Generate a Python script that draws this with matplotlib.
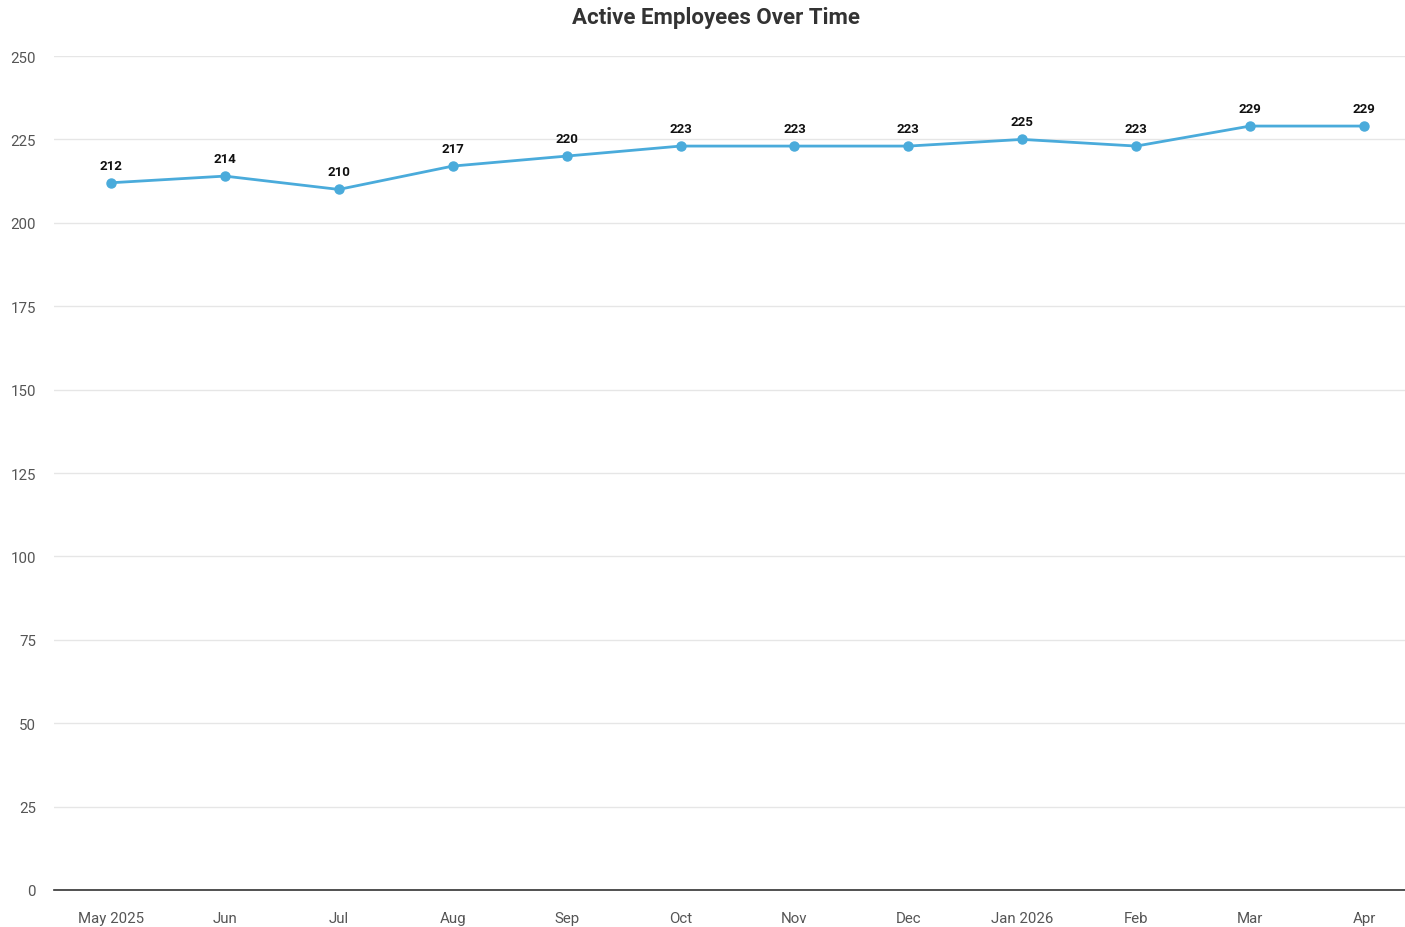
import numpy as np
import matplotlib
matplotlib.use("Agg")
import matplotlib.pyplot as plt

plt.rcParams['font.family'] = ['Roboto', 'DejaVu Sans']

months = ["May 2025", "Jun", "Jul", "Aug", "Sep", "Oct", "Nov", "Dec",
          "Jan 2026", "Feb", "Mar", "Apr"]
active = [212, 214, 210, 217, 220, 223, 223, 223, 225, 223, 229, 229]
y_ticks = [0, 25, 50, 75, 100, 125, 150, 175, 200, 225, 250]

fig = plt.figure(figsize=(14.05, 9.28), dpi=100)
ax = fig.add_axes([54 / 1405, 37 / 928, 1 - 54 / 1405, (890 - 56) / 928])

x = np.arange(len(months))
ax.plot(x, active, color="#4aabdb", linewidth=2, marker="o", markersize=6.5, zorder=3)
for xi, v in zip(x, active):
    ax.annotate(str(v), (xi, v), xytext=(0, 8), textcoords="offset points",
                ha="center", va="bottom", fontsize=9.5, fontweight="bold", color="#111111")

ax.set_xlim(-0.5, 11.36)
ax.set_ylim(0, 250)
ax.set_xticks(x)
ax.set_xticklabels(months)
ax.set_yticks(y_ticks)
ax.grid(axis="y", color="#e6e6e6", linewidth=1)
ax.set_axisbelow(True)
for s in ["top", "right", "left"]:
    ax.spines[s].set_visible(False)
ax.spines["bottom"].set_color("#333333")
ax.spines["bottom"].set_linewidth(1.2)
ax.tick_params(axis="both", length=0, labelsize=10.8, labelcolor="#555555")
ax.tick_params(axis="x", pad=15)
ax.tick_params(axis="y", pad=13)

fig.text(716 / 1405, 1 - 18 / 928, "Active Employees Over Time", ha="center", va="center",
         fontsize=16, fontweight="bold", color="#333333")

fig.savefig("out.png", dpi=100)
